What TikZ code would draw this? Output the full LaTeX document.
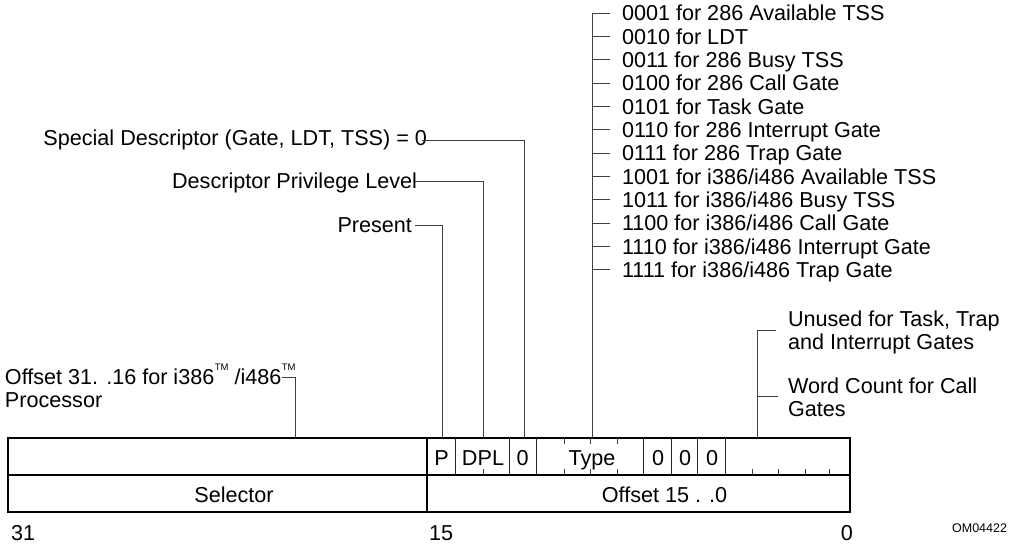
\documentclass[tikz,border=0pt]{standalone}
\usepackage{fontspec}
\setmainfont{Liberation Sans}
\newcommand{\tmk}{\raisebox{14pt}{\fontsize{9.5}{9.5}\selectfont TM}}
\begin{document}
\begin{tikzpicture}[x=1pt,y=-1pt,
  every node/.style={inner sep=0pt, outer sep=0pt},
  lbl/.style={font=\fontsize{21.6}{23.4}\selectfont, text height=15.5pt, text depth=0pt},
  small/.style={font=\fontsize{12.5}{14}\selectfont, text height=9pt, text depth=0pt},
  leader/.style={draw=black!75, line width=0.9pt},
  frame/.style={draw=black, line width=1.3pt},
  divider/.style={draw=black!85, line width=1pt},
  tickmark/.style={draw=black!75, line width=0.9pt}]
\useasboundingbox (0,0) rectangle (1014,544);

% leader targets on the table top
\coordinate (cO) at (295,438);
\coordinate (cP) at (442,438);
\coordinate (cD) at (483,438);
\coordinate (cZ) at (524,438);
\coordinate (cT) at (592,438);
\coordinate (cU) at (757,438);

% table
\draw[frame] (8,438) rectangle (850,512);
\draw[frame] (8,475) -- (850,475);
\draw[frame] (427,438) -- (427,512);
\foreach \x in {455,509,536,643,671,697,725}
  \draw[divider] (\x,438) -- (\x,475);
\foreach \x in {564,590,617} {
  \draw[tickmark] (\x,438) -- ++(0,6);
  \draw[tickmark] (\x,475) -- ++(0,-6);
}
\foreach \x in {483,752,778,805,829}
  \draw[tickmark] (\x,475) -- ++(0,-6);

\node[lbl] (tP) at (441.5,457.5) {P};
\node[lbl] (tDPL) at (483,457.5) {DPL};
\node[lbl] (tZ) at (522.5,457.5) {0};
\node[lbl] (tType) at (592,457.5) {Type};
\node[lbl] (tZa) at (658,457.5) {0};
\node[lbl] (tZb) at (685,457.5) {0};
\node[lbl] (tZc) at (712,457.5) {0};
\node[lbl] (tSel) at (234,495) {Selector};
\node[lbl] (tOff) at (664.5,495) {Offset 15 . .0};

% bit numbers
\node[lbl,anchor=west] (b31) at (11,533) {31};
\node[lbl,anchor=west] (b15) at (429,533) {15};
\node[lbl,anchor=east] (b0) at (853,533) {0};
\node[small,anchor=east] (om) at (1007,528) {OM04422};

% offset 31..16 label
\node[lbl,anchor=west] (off1) at (5,377) {Offset 31. .16 for i386\kern0.5pt\tmk{} /i486\kern0.5pt\tmk};
\node[lbl,anchor=west] (off2) at (5,400) {Processor};
\draw[leader] ([xshift=-14pt]off1.east) -| (cO);

% left labels
\node[lbl,anchor=east] (spec) at (427,137.5) {Special Descriptor (Gate, LDT, TSS) = 0};
\draw[leader] ([shift={(-5pt,-2.5pt)}]spec.east) -| (cZ);
\node[lbl,anchor=east] (dpl) at (417,181) {Descriptor Privilege Level};
\draw[leader] ([xshift=-2pt]dpl.east) -| (cD);
\node[lbl,anchor=east] (pres) at (412,225) {Present};
\draw[leader] ([xshift=3pt]pres.east) -| (cP);

% type list
\foreach \t [count=\i from 0] in {0001 for 286 Available TSS,0010 for LDT,0011 for 286 Busy TSS,0100 for 286 Call Gate,0101 for Task Gate,0110 for 286 Interrupt Gate,0111 for 286 Trap Gate,1001 for i386/i486 Available TSS,1011 for i386/i486 Busy TSS,1100 for i386/i486 Call Gate,1110 for i386/i486 Interrupt Gate,1111 for i386/i486 Trap Gate} {
  \node[lbl,anchor=west] (ty\i) at (622,{13+23.35*\i}) {\t};
  \draw[leader] ([xshift=-12pt]ty\i.west) -- (ty\i.west -| cT);
}
\draw[leader] (ty0.west -| cT) -- (cT);

% unused / word count
\node[lbl,anchor=west] (un1) at (788,319) {Unused for Task, Trap};
\node[lbl,anchor=west] (un2) at (788,342) {and Interrupt Gates};
\node[lbl,anchor=west] (wc1) at (788,386) {Word Count for Call};
\node[lbl,anchor=west] (wc2) at (788,409) {Gates};
\coordinate (uTopEnd) at (776,330);
\coordinate (uMidEnd) at (778,396);
\draw[leader] (uTopEnd) -| (cU);
\draw[leader] (uMidEnd) -- (uMidEnd -| cU);
\end{tikzpicture}
\end{document}
